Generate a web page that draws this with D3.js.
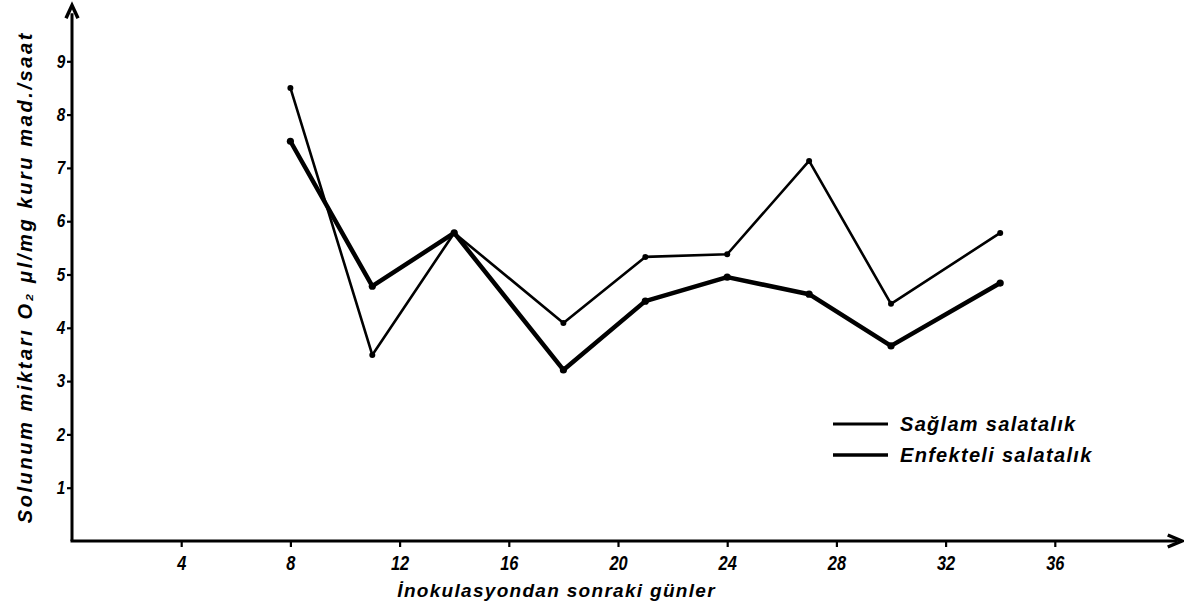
<!DOCTYPE html>
<html><head><meta charset="utf-8">
<script src="https://cdn.jsdelivr.net/npm/d3@7"></script>
<style>
html,body{margin:0;padding:0;background:#fff;}
text{font-family:"Liberation Sans",Arial,sans-serif;font-weight:bold;font-style:italic;fill:#000;}
</style></head>
<body>
<svg id="c" width="1184" height="609"></svg>
<script>
const days = [8, 11, 14, 18, 21, 24, 27, 30, 34];
const saglam = [8.5, 3.49, 5.78, 4.09, 5.33, 5.38, 7.13, 4.45, 5.78];
const enfekteli = [7.5, 4.78, 5.78, 3.21, 4.5, 4.95, 4.63, 3.66, 4.84];
const xTicks = [4, 8, 12, 16, 20, 24, 28, 32, 36];
const yTicks = [1, 2, 3, 4, 5, 6, 7, 8, 9];
const seriesNames = ["Sağlam salatalık", "Enfekteli salatalık"];
const yTitle = "Solunum miktarı  O₂ μl/mg kuru mad./saat";
const xTitle = "İnokulasyondan  sonraki günler";

const svg = d3.select("#c");
const x = d3.scaleLinear().domain([0, 40]).range([72, 1164]);
const y = d3.scaleLinear().domain([0, 10]).range([541, 8]);

// axes lines
const x0 = x(0), y0 = y(0);
svg.append("line").attr("x1", x0).attr("y1", y0).attr("x2", x0).attr("y2", y(9.9))
  .attr("stroke", "#000").attr("stroke-width", 3);
svg.append("line").attr("x1", x0 - 1.5).attr("y1", y0).attr("x2", x(40.5)).attr("y2", y0)
  .attr("stroke", "#000").attr("stroke-width", 3);
// arrowheads
const ty = y(10.05);
svg.append("path").attr("d", `M${x0-6},${ty+13} L${x0},${ty} L${x0+6},${ty+13}`)
  .attr("fill", "none").attr("stroke", "#000").attr("stroke-width", 3.5).attr("stroke-linejoin", "miter");
const tx = x(40.65);
svg.append("path").attr("d", `M${tx-14},${y0-6} L${tx},${y0} L${tx-14},${y0+6}`)
  .attr("fill", "none").attr("stroke", "#000").attr("stroke-width", 3.5).attr("stroke-linejoin", "miter");

// x axis ticks
const xa = svg.append("g").attr("transform", `translate(0,${y0})`)
  .call(d3.axisBottom(x).tickValues(xTicks).tickSize(6).tickPadding(9).tickFormat(d3.format("d")));
xa.select(".domain").remove();
xa.selectAll(".tick line").attr("stroke-width", 2.2);
xa.selectAll("text").style("font-size", "20px").attr("font-family", null).attr("font-size", null)
  .attr("transform", "scale(0.82,1)");

// y axis ticks
const ya = svg.append("g").attr("transform", `translate(${x0},0)`)
  .call(d3.axisLeft(y).tickValues(yTicks).tickSize(5).tickPadding(3).tickFormat(d3.format("d")));
ya.select(".domain").remove();
ya.selectAll(".tick line").attr("stroke-width", 2.2);
ya.selectAll("text").style("font-size", "18px").attr("font-family", null).attr("font-size", null)
  .attr("transform", "scale(0.85,1)");

// titles
svg.append("text").attr("transform", `translate(32,${y(4.95)}) rotate(-90)`)
  .attr("text-anchor", "middle").style("font-size", "20px").style("letter-spacing", "2.6px").text(yTitle);
svg.append("text").attr("x", x(17.75)).attr("y", 597)
  .attr("text-anchor", "middle").style("font-size", "19px").style("letter-spacing", "1.3px").text(xTitle);

// lines
const line = d3.line().x(d => x(d[0])).y(d => y(d[1]));
const sets = [
  {vals: saglam, w: 2.6, r: 3},
  {vals: enfekteli, w: 4.5, r: 3.6}
];
sets.forEach(s => {
  const pts = days.map((d, i) => [d, s.vals[i]]);
  svg.append("path").datum(pts).attr("d", line).attr("fill", "none")
    .attr("stroke", "#000").attr("stroke-width", s.w).attr("stroke-linejoin", "round");
  svg.selectAll(null).data(pts).enter().append("circle")
    .attr("cx", d => x(d[0])).attr("cy", d => y(d[1])).attr("r", s.r).attr("fill", "#000");
});

// legend
const lg = svg.append("g").attr("transform", "translate(833,424)");
seriesNames.forEach((n, i) => {
  lg.append("line").attr("x1", 0).attr("x2", 55).attr("y1", i * 31).attr("y2", i * 31)
    .attr("stroke", "#000").attr("stroke-width", i === 0 ? 3 : 3.5);
  lg.append("text").attr("x", 67).attr("y", i * 31 + 7).style("font-size", "20px")
    .style("letter-spacing", "1.3px").text(n);
});
</script>
</body></html>
